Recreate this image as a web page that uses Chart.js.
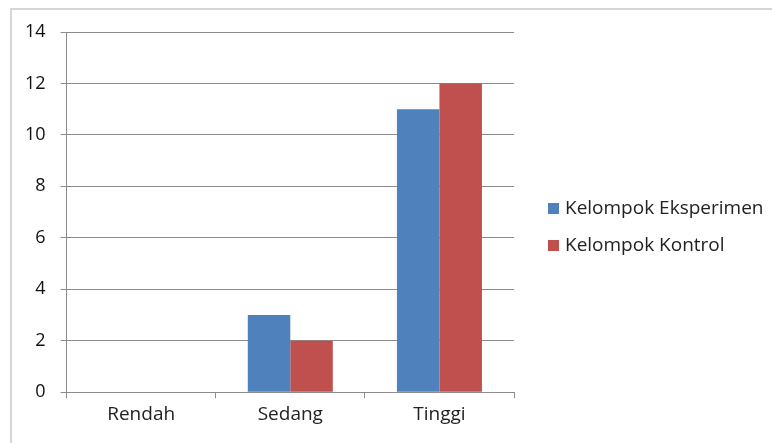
<!DOCTYPE html>
<html>
<head>
<meta charset="utf-8">
<script src="https://cdn.jsdelivr.net/npm/chart.js@4/dist/chart.umd.min.js"></script>
<style>
  html, body { margin: 0; padding: 0; background: #fff; overflow: hidden; }
  #frame {
    position: absolute; left: 10px; top: 8px; width: 800px; height: 480px;
    border-top: 2px solid #d6d6d6; border-left: 2px solid #d6d6d6;
  }
  #wrap { position: absolute; left: 0; top: 0; width: 772px; height: 443px; }
</style>
</head>
<body>
<div id="frame"></div>
<div id="wrap"><canvas id="myChart" width="772" height="443"></canvas></div>
<script>
var categories = ['Rendah', 'Sedang', 'Tinggi'];
var eksperimen = [0, 3, 11];
var kontrol = [0, 2, 12];
var seriesNames = ['Kelompok Eksperimen', 'Kelompok Kontrol'];

Chart.defaults.font.family = '"Open Sans", Lato, sans-serif';
Chart.defaults.font.size = 18;
Chart.defaults.color = '#222';

// legend drawn beside the plot (built-in one gets squeezed too narrow)
var sideLegend = {
    id: 'sideLegend',
    afterDraw: function(chart) {
        var c = chart.ctx;
        var area = chart.chartArea;
        var x = area.right + 34;
        var y = area.top + 177;
        c.save();
        c.font = '19px "Open Sans", Lato, sans-serif';
        c.textBaseline = 'middle';
        chart.data.datasets.forEach(function(ds, i) {
            var cy = y + i * 37;
            c.fillStyle = ds.backgroundColor;
            c.fillRect(x, cy - 6, 11, 11);
            c.fillStyle = '#222';
            c.fillText(ds.label, x + 17, cy);
        });
        c.restore();
    }
};

var dataObj = {
    type: 'bar',
    data: {
        labels: categories,
        datasets: [{
            label: seriesNames[0],
            data: eksperimen,
            backgroundColor: '#4F81BD',
            borderWidth: 0,
            categoryPercentage: 0.57,
            barPercentage: 1
        }, {
            label: seriesNames[1],
            data: kontrol,
            backgroundColor: '#C0504D',
            borderWidth: 0,
            categoryPercentage: 0.57,
            barPercentage: 1
        }]
    },
    options: {
        responsive: false,
        animation: false,
        layout: {
            padding: { left: 10, top: 32, bottom: 12, right: 258 }
        },
        plugins: {
            tooltip: { enabled: false },
            legend: { display: false }
        },
        scales: {
            x: {
                grid: {
                    offset: true,
                    drawOnChartArea: false,
                    drawTicks: true,
                    tickLength: 6,
                    color: '#8c8c8c'
                },
                border: { color: '#8c8c8c' },
                ticks: { padding: 5, color: '#222', font: { size: 19 } }
            },
            y: {
                min: 0,
                max: 14,
                ticks: { stepSize: 2, padding: 15, color: '#111' },
                grid: {
                    color: '#8c8c8c',
                    tickLength: 6
                },
                border: { color: '#8c8c8c' }
            }
        }
    },
    plugins: [sideLegend]
};
var ctx = document.getElementById('myChart').getContext('2d');
window.myBar = new Chart(ctx, dataObj);
</script>
</body>
</html>
